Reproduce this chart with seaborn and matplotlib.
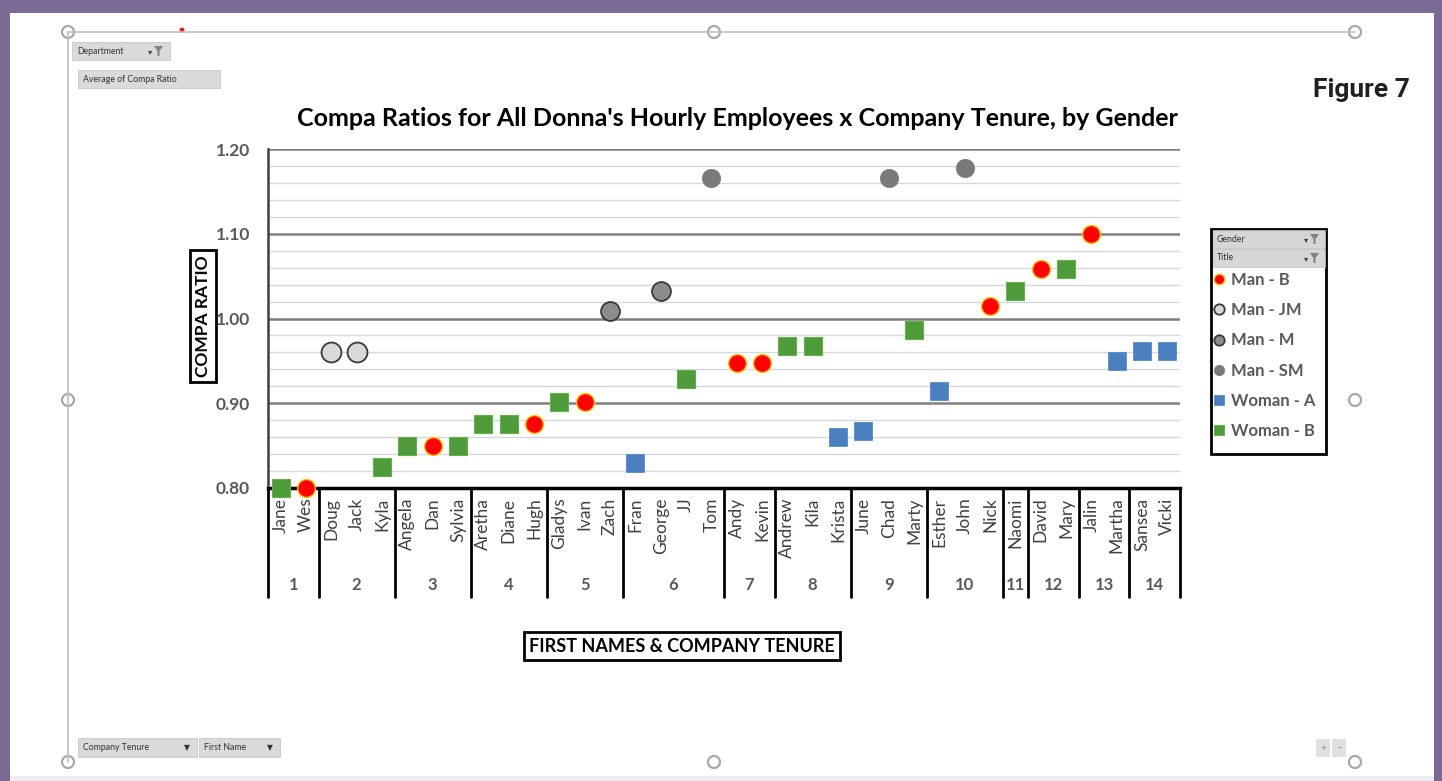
import numpy as np
import pandas as pd
import matplotlib
matplotlib.use('Agg')
import matplotlib.pyplot as plt
import matplotlib.transforms as mtransforms
from matplotlib.patches import Rectangle, Circle, Polygon
from matplotlib.lines import Line2D
import seaborn as sns

# ---- data ----
names = ['Jane', 'Wes', 'Doug', 'Jack', 'Kyla', 'Angela', 'Dan', 'Sylvia',
         'Aretha', 'Diane', 'Hugh', 'Gladys', 'Ivan', 'Zach', 'Fran', 'George',
         'JJ', 'Tom', 'Andy', 'Kevin', 'Andrew', 'Kila', 'Krista', 'June',
         'Chad', 'Marty', 'Esther', 'John', 'Nick', 'Naomi', 'David', 'Mary',
         'Jalin', 'Martha', 'Sansea', 'Vicki']
tenure = [1, 1, 2, 2, 2, 3, 3, 3, 4, 4, 4, 5, 5, 5, 6, 6, 6, 6, 7, 7,
          8, 8, 8, 9, 9, 9, 10, 10, 10, 11, 12, 12, 13, 13, 14, 14]
title_grp = ['Woman - B', 'Man - B', 'Man - JM', 'Man - JM', 'Woman - B',
             'Woman - B', 'Man - B', 'Woman - B', 'Woman - B', 'Woman - B',
             'Man - B', 'Woman - B', 'Man - B', 'Man - M', 'Woman - A',
             'Man - M', 'Woman - B', 'Man - SM', 'Man - B', 'Man - B',
             'Woman - B', 'Woman - B', 'Woman - A', 'Woman - A', 'Man - SM',
             'Woman - B', 'Woman - A', 'Man - SM', 'Man - B', 'Woman - B',
             'Man - B', 'Woman - B', 'Man - B', 'Woman - A', 'Woman - A',
             'Woman - A']
compa = [0.800, 0.800, 0.961, 0.961, 0.825, 0.849, 0.849, 0.849, 0.875, 0.875,
         0.875, 0.902, 0.902, 1.009, 0.829, 1.033, 0.929, 1.166, 0.947, 0.947,
         0.967, 0.967, 0.860, 0.867, 1.166, 0.986, 0.914, 1.178, 1.015, 1.033,
         1.058, 1.058, 1.100, 0.950, 0.962, 0.962]
legend_order = ['Man - B', 'Man - JM', 'Man - M', 'Man - SM', 'Woman - A', 'Woman - B']
y_ticks = [0.80, 0.90, 1.00, 1.10, 1.20]

STYLE = {
    'Man - B':   dict(marker='o', s=165, color='#ff0000', edgecolor='#ffc000', linewidth=1.0),
    'Man - JM':  dict(marker='o', s=205, color='#d9d9d9', edgecolor='#3a3a3a', linewidth=1.3),
    'Man - M':   dict(marker='o', s=185, color='#8c8c8c', edgecolor='#3a3a3a', linewidth=1.3),
    'Man - SM':  dict(marker='o', s=175, color='#7a7a7a', edgecolor='#7a7a7a', linewidth=0.5),
    'Woman - A': dict(marker='s', s=180, color='#4a80c0', edgecolor='#4a80c0', linewidth=0.5),
    'Woman - B': dict(marker='s', s=180, color='#4f9a3a', edgecolor='#66b04a', linewidth=0.8),
}

sns.set_theme(style='white')
plt.rcParams['font.family'] = ['Lato', 'DejaVu Sans']

W, H = 1442, 781
PURPLE = '#7b6a96'
df = pd.DataFrame({'name': names, 'tenure': tenure, 'title': title_grp, 'compa': compa})
df['pos'] = np.arange(len(df))

fig = plt.figure(figsize=(W / 100, H / 100), dpi=100, facecolor=PURPLE)

# background layer in pixel coordinates (y down)
bg = fig.add_axes([0, 0, 1, 1], zorder=-1)
bg.set_xlim(0, W); bg.set_ylim(H, 0); bg.axis('off')
bg.add_patch(Rectangle((10, 13), 1424, 763, fc='white', ec='none'))
bg.add_patch(Rectangle((10, 776), 1424, 5, fc='#eeecf2', ec='none'))
bg.plot([68, 1355], [32, 32], color='#c0c0c0', lw=1.2)
bg.plot([68, 68], [32, 762], color='#c0c0c0', lw=1.2)
for hx, hy in [(68, 32), (714, 32), (1355, 32), (68, 400), (1355, 400),
               (68, 762), (714, 762), (1355, 762)]:
    bg.add_patch(Circle((hx, hy), 6, fc='white', ec='#a8a8a8', lw=1.6))
bg.add_patch(Circle((182, 30), 2.5, fc='#e02020', ec='none'))


def funnel(cx, cy):
    bg.add_patch(Polygon([(cx - 4, cy - 5), (cx + 5, cy - 5), (cx + 1.5, cy),
                          (cx + 1.5, cy + 5), (cx - 0.5, cy + 5), (cx - 0.5, cy)],
                         closed=True, fc='#808080', ec='none'))
    bg.text(cx - 8, cy + 1, '\u25be', fontsize=6, color='#404040', ha='center', va='center',
            family=['DejaVu Sans'])


def button(x0, y0, x1, y1, label, arrow=None, filt=False):
    bg.add_patch(Rectangle((x0, y0), x1 - x0, y1 - y0, fc='#dadada', ec='#c8c8c8', lw=0.6))
    bg.text(x0 + 5, (y0 + y1) / 2, label, fontsize=6.3, color='#333333', va='center', ha='left')
    if arrow:
        bg.text(x1 - 10, (y0 + y1) / 2, '\u25bc', fontsize=5.5, color='#333333',
                va='center', ha='center', family=['DejaVu Sans'])
    if filt:
        funnel(x1 - 12, (y0 + y1) / 2)


button(72, 42, 170, 60, 'Department', filt=True)
button(78, 70, 220, 88, 'Average of Compa Ratio')
button(78, 738, 197, 757, 'Company Tenure', arrow=True)
button(199, 738, 280, 757, 'First Name', arrow=True)
for bx, sym in [(1316, '+'), (1332, '\u2212')]:
    bg.add_patch(Rectangle((bx, 739), 14, 18, fc='#e0e0e0', ec='none'))
    bg.text(bx + 7, 748, sym, fontsize=7, color='#909090', ha='center', va='center')

bg.text(1361, 90, 'Figure 7', fontsize=19, fontweight='bold', color='#231f20',
        ha='center', va='center', family=['Liberation Sans Narrow', 'Roboto'])

# title and boxed axis labels
bg.text(737, 118, "Compa Ratios for All Donna's Hourly Employees x Company Tenure, by Gender",
        fontsize=18, fontweight='bold', color='black', ha='center', va='center')
bg.text(203, 316, 'COMPA RATIO', rotation=90, fontsize=12.5, fontweight='bold', color='black',
        ha='center', va='center',
        bbox=dict(boxstyle='square,pad=0.3', fc='white', ec='black', lw=2))
bg.text(682, 646, 'FIRST NAMES & COMPANY TENURE', fontsize=13, fontweight='bold', color='black',
        ha='center', va='center',
        bbox=dict(boxstyle='square,pad=0.3', fc='white', ec='black', lw=2))

# legend box with pivot field headers
bg.add_patch(Rectangle((1211, 229), 115, 225, fc='white', ec='black', lw=2))
for y0, lab in [(230, 'Gender'), (249, 'Title')]:
    bg.add_patch(Rectangle((1212.5, y0), 112, 18, fc='#d6d6d6', ec='#c0c0c0', lw=0.5))
    bg.text(1217, y0 + 9, lab, fontsize=6.3, color='#333333', va='center', ha='left')
    funnel(1314, y0 + 9)

# ---- main plot ----
ax = fig.add_axes([268 / W, 1 - 488 / H, 912 / W, 339 / H])
ax.set_facecolor('white')
for t in legend_order:
    sub = df[df['title'] == t]
    sns.scatterplot(data=sub, x='pos', y='compa', ax=ax, legend=False,
                    zorder=4, clip_on=False, **STYLE[t])

ax.set_xlim(-0.5, len(names) - 0.5)
ax.set_ylim(0.80, 1.20)
ax.set_yticks(y_ticks)
ax.set_yticklabels([f'{v:.2f}' for v in y_ticks])
ax.set_yticks(np.arange(0.80, 1.2001, 0.02), minor=True)
ax.grid(which='minor', axis='y', color='#d3d9e1', lw=1.0, zorder=0)
ax.grid(which='major', axis='y', color='#808080', lw=1.8, zorder=1)
ax.grid(which='both', axis='x', visible=False)
ax.set_axisbelow(True)
ax.tick_params(axis='y', which='both', length=0, pad=13, labelsize=12.5,
               labelcolor='#595959')
for lab in ax.get_yticklabels():
    lab.set_fontweight('bold')
ax.set_xticks(df['pos'])
ax.set_xticklabels(names, rotation=90, ha='center', va='top')
ax.tick_params(axis='x', length=0, pad=7, labelsize=12.5, labelcolor='#404040')
ax.set_xlabel(''); ax.set_ylabel('')
for side in ['top', 'right']:
    ax.spines[side].set_visible(False)
ax.spines['left'].set_color('#404040'); ax.spines['left'].set_linewidth(1.8)
ax.spines['bottom'].set_color('black'); ax.spines['bottom'].set_linewidth(2.5)

# multi-level category axis: tenure groups
blend = mtransforms.blended_transform_factory(ax.transData, ax.transAxes)
bounds = [-0.5] + [i + 0.5 for i in range(len(tenure) - 1) if tenure[i] != tenure[i + 1]] \
         + [len(tenure) - 0.5]
for b in bounds:
    ax.plot([b, b], [0, -0.322], transform=blend, color='black', lw=2, clip_on=False)
for t in sorted(set(tenure)):
    c = df.loc[df['tenure'] == t, 'pos'].mean()
    ax.text(c, -0.287, str(t), transform=blend, ha='center', va='center',
            fontsize=12, fontweight='bold', color='#595959')

# legend entries
handles = []
for t in legend_order:
    st = STYLE[t]
    handles.append(Line2D([], [], ls='', marker=st['marker'], markersize=7.5,
                          markerfacecolor=st['color'], markeredgecolor=st['edgecolor'],
                          markeredgewidth=st['linewidth'], label=t))
leg = fig.legend(handles=handles, loc='upper left', bbox_to_anchor=(1212 / W, 1 - 272 / H),
                 frameon=False, fontsize=12, labelcolor='#595959', handlelength=0.8,
                 handletextpad=0.35, labelspacing=0.85, borderpad=0, borderaxespad=0)
for txt in leg.get_texts():
    txt.set_fontweight('bold')

fig.savefig('out.png', dpi=100, facecolor=PURPLE)
